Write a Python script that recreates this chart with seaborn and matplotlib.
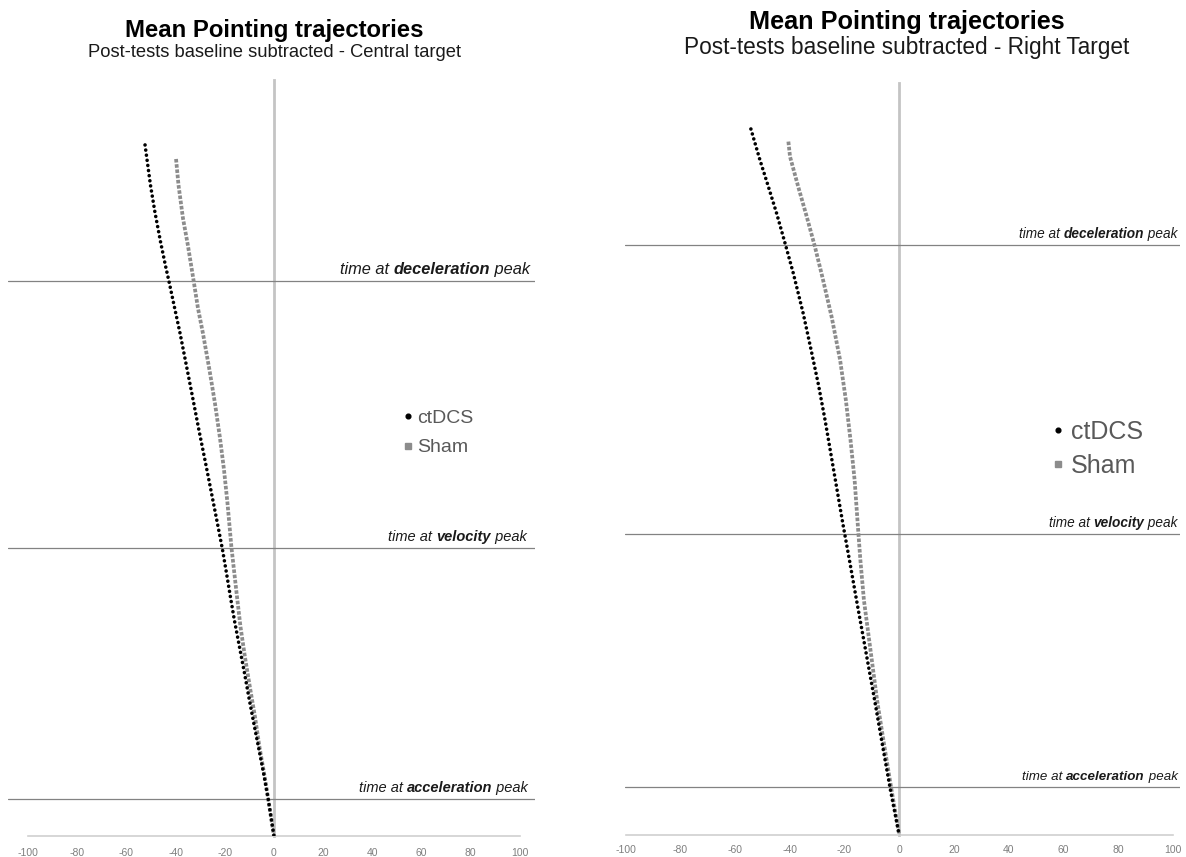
import matplotlib
matplotlib.use("Agg")
import matplotlib.pyplot as plt
import seaborn as sns
import pandas as pd
from matplotlib.lines import Line2D

sns.set_theme(style="white")
plt.rcParams['font.family'] = ['Liberation Sans', 'DejaVu Sans']

# ---------------- data ----------------
# x: lateral deviation, y: forward displacement (y axis hidden)
central_ctdcs_x = [-52.4, -50.2, -48.4, -46.1, -43.9, -42.7, -40.9, -38.2, -35.8, -33.1, -30.5, -27.8,
                   -25.4, -23.0, -20.9, -19.3, -17.7, -16.1, -14.0, -12.0, -10.0, -7.9, -6.3, -4.3,
                   -2.4, 0.0]
central_ctdcs_y = [280.9, 264.6, 253.7, 241.5, 230.9, 225.6, 217.1, 204.5, 192.3, 178.5, 165.0, 151.6,
                   139.4, 127.2, 116.3, 106.9, 97.2, 87.8, 76.8, 66.3, 55.3, 44.3, 36.2, 26.0,
                   15.4, 0.0]
central_sham_x = [-39.8, -38.8, -37.0, -35.0, -32.7, -30.9, -28.9, -26.2, -24.0, -22.0, -20.3, -18.9,
                  -17.3, -15.2, -13.6, -11.8, -9.8, -7.7, -5.9, -4.1, -2.4, 0.0]
central_sham_y = [275.2, 264.6, 251.2, 240.2, 226.0, 214.6, 204.5, 189.4, 176.0, 162.2, 148.8, 135.4,
                  117.5, 98.8, 85.0, 72.8, 60.6, 48.4, 36.2, 26.0, 15.4, 0.0]

right_ctdcs_x = [-54.2, -50.9, -47.8, -44.8, -41.7, -38.7, -35.1, -32.2, -29.5, -27.1, -24.9, -22.7,
                 -20.5, -18.2, -15.6, -12.3, -9.0, -5.8, -3.2, 0.0]
right_ctdcs_y = [257.9, 246.6, 236.8, 227.1, 216.1, 205.2, 190.6, 177.2, 164.4, 151.6, 138.8, 126.0,
                 113.2, 100.5, 85.8, 67.6, 49.3, 31.0, 16.4, 0.0]
right_sham_x = [-40.5, -39.9, -36.9, -33.8, -30.8, -28.1, -24.7, -21.6, -19.5, -17.8, -16.3, -14.9,
                -14.2, -12.9, -10.5, -8.1, -5.2, -2.8, 0.0]
right_sham_y = [253.3, 247.8, 236.8, 225.9, 214.9, 203.9, 189.3, 173.5, 158.9, 144.3, 129.7, 110.0,
                100.5, 85.8, 67.6, 49.3, 31.0, 16.4, 0.0]

# forward position of the kinematic events
event_names = ["deceleration", "velocity", "acceleration"]
central_event_y = [225.6, 117.1, 15.0]
right_event_y = [215.5, 110.0, 17.5]

series_names = ["ctDCS", "Sham"]
x_ticks = [-100, -80, -60, -40, -20, 0, 20, 40, 60, 80, 100]

titles = ["Mean Pointing trajectories", "Mean Pointing trajectories"]
subtitles = ["Post-tests baseline subtracted - Central target",
             "Post-tests baseline subtracted - Right Target"]

# ---------------- figure ----------------
W, H = 1186, 857
fig = plt.figure(figsize=(W / 100, H / 100), dpi=100)
fig.patch.set_facecolor("white")


def px_rect(l, r, t, b):
    return [l / W, 1 - b / H, (r - l) / W, (b - t) / H]


panels = [
    dict(rect=px_rect(8, 535, 80, 836), xlim=(-108.1, 106.1), ylim=(0, 307.3),
         cx=central_ctdcs_x, cy=central_ctdcs_y, sx=central_sham_x, sy=central_sham_y,
         ev=central_event_y, title=titles[0], sub=subtitles[0], tsize=17.2, ssize=13.2,
         title_xy=(274, 30), sub_xy=(274, 52.5), leg_xy=(403, 433), leg_size=14.0,
         leg_pad=0.25, leg_ls=0.6, ev_size=[11.8, 10.5, 10.5], ev_off=[3.0, 3.0, 3.0],
         ev_right=[2.0, 3.5, 2.8], tick_pad=8.5),
    dict(rect=px_rect(625, 1180, 83, 835), xlim=(-100.2, 102.6), ylim=(0, 274.7),
         cx=right_ctdcs_x, cy=right_ctdcs_y, sx=right_sham_x, sy=right_sham_y,
         ev=right_event_y, title=titles[1], sub=subtitles[1], tsize=18.2, ssize=16.3,
         title_xy=(907, 22.5), sub_xy=(907, 47.5), leg_xy=(1052, 449), leg_size=18.0,
         leg_pad=0.27, leg_ls=0.4, ev_size=[9.8, 9.8, 9.6], ev_off=[3.0, 3.0, 3.0],
         ev_right=[0.8, 0.8, 0.8], tick_pad=7.5),
]

for p in panels:
    ax = fig.add_axes(p["rect"])
    ax.set_facecolor("white")
    df_c = pd.DataFrame({"x": p["cx"], "y": p["cy"]})
    df_s = pd.DataFrame({"x": p["sx"], "y": p["sy"]})

    # event lines
    for yv in p["ev"]:
        ax.axhline(yv, color="#828282", lw=0.9, zorder=1)

    sns.lineplot(data=df_s, x="x", y="y", sort=False, estimator=None, ax=ax,
                 color="#8c8c8c", linewidth=2.7, linestyle=(0, (0.95, 0.45)),
                 dash_capstyle="butt", zorder=3)
    sns.lineplot(data=df_c, x="x", y="y", sort=False, estimator=None, ax=ax,
                 color="black", linewidth=2.6, linestyle=(0, (0.01, 1.42)),
                 dash_capstyle="round", zorder=4)

    ax.set_xlim(*p["xlim"])
    ax.set_ylim(*p["ylim"])
    ax.set_xticks(x_ticks)
    ax.set_xticklabels([str(t) for t in x_ticks])
    ax.set_yticks([])
    ax.set_xlabel("")
    ax.set_ylabel("")
    for s in ["top", "right"]:
        ax.spines[s].set_visible(False)
    ax.spines["left"].set_position(("data", 0))
    ax.spines["left"].set_color("#c4c4c4")
    ax.spines["left"].set_linewidth(2.0)
    ax.spines["left"].set_zorder(0.5)
    ax.spines["bottom"].set_bounds(-100, 100)
    ax.spines["bottom"].set_color("#d0d0d0")
    ax.spines["bottom"].set_linewidth(1.2)
    ax.tick_params(axis="x", length=0, pad=p["tick_pad"], labelsize=7.5, labelcolor="#7f7f7f")

    # event labels: "time at <b>event</b> peak", right aligned above each line
    for yv, name, fs, off, rgt in zip(p["ev"], event_names, p["ev_size"], p["ev_off"], p["ev_right"]):
        t3 = ax.annotate(" peak", xy=(p["xlim"][1] - rgt, yv), xytext=(0, off),
                         textcoords="offset points", ha="right", va="bottom",
                         fontsize=fs, style="italic", color="#1a1a1a")
        t2 = ax.annotate(name, xy=(0, 0), xycoords=t3, ha="right", va="bottom",
                         fontsize=fs, style="italic", weight="bold", color="#1a1a1a")
        ax.annotate("time at ", xy=(0, 0), xycoords=t2, ha="right", va="bottom",
                    fontsize=fs, style="italic", color="#1a1a1a")

    # titles
    fig.text(p["title_xy"][0] / W, 1 - p["title_xy"][1] / H, p["title"], ha="center", va="center",
             fontsize=p["tsize"], weight="bold", color="black")
    fig.text(p["sub_xy"][0] / W, 1 - p["sub_xy"][1] / H, p["sub"], ha="center", va="center",
             fontsize=p["ssize"], color="#1a1a1a")

    # legend
    handles = [Line2D([], [], marker="o", ls="none", color="black", markersize=3.4),
               Line2D([], [], marker="s", ls="none", color="#8c8c8c", markersize=3.8)]
    leg = fig.legend(handles, series_names, loc="center left",
                     bbox_to_anchor=(p["leg_xy"][0] / W, 1 - p["leg_xy"][1] / H),
                     frameon=False, handlelength=0.5, handletextpad=p["leg_pad"], borderpad=0,
                     borderaxespad=0, labelspacing=p["leg_ls"], fontsize=p["leg_size"])
    for t in leg.get_texts():
        t.set_color("#595959")

fig.savefig("out.png", dpi=100, facecolor="white")
